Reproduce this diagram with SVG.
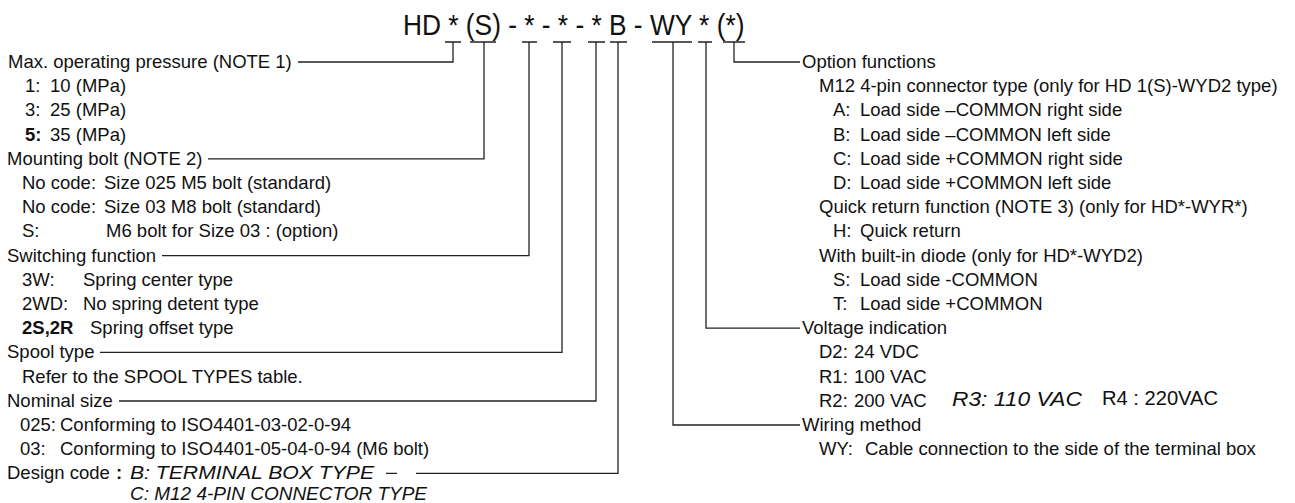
<svg xmlns="http://www.w3.org/2000/svg" width="1295" height="503" viewBox="0 0 1295 503">
<style>
text{font-family:"Liberation Sans",Arial,sans-serif;font-size:18.5px;fill:#111}
.hw{font-style:italic;font-size:19px}
.b{font-weight:bold}
.ln{fill:none;stroke:#222;stroke-width:1.3}
</style>
<rect width="1295" height="503" fill="#fff"/>
<g id="title">
<text transform="translate(403,35) scale(0.877,1)" style="font-size:30px">HD * (S) - * - * - * B - WY * (*)</text>
</g>
<g id="connectors" class="ln">
<path d="M445 42H461M470 42H496M522 42H537M553 42H571M588 42H605M610 42H627M652 42H692M698 42H712M723 42H745"/>
<path d="M298 62H453V42"/>
<path d="M208 158.8H484V42"/>
<path d="M162 255.6H529V42"/>
<path d="M100 352.4H562V42"/>
<path d="M119 401H596V42"/>
<path d="M386 473.4H397M416 473.4H618V42"/>
<path d="M800 425H673V42"/>
<path d="M800 328.2H706V42"/>
<path d="M800 62H734V42"/>
</g>
<g id="pressure">
<text x="8" y="68">Max. operating pressure (NOTE 1)</text>
<text x="25" y="92.2">1:</text><text x="50" y="92.2">10 (MPa)</text>
<text x="25" y="116.4">3:</text><text x="50" y="116.4">25 (MPa)</text>
<text x="25" y="140.6" class="b">5:</text><text x="50" y="140.6">35 (MPa)</text>
</g>
<g id="mounting">
<text x="7" y="164.8">Mounting bolt (NOTE 2)</text>
<text x="22" y="189">No code:</text><text x="104" y="189">Size 025 M5 bolt (standard)</text>
<text x="22" y="213.2">No code:</text><text x="104" y="213.2">Size 03 M8 bolt (standard)</text>
<text x="22" y="237.4">S:</text><text x="106" y="237.4">M6 bolt for Size 03 : (option)</text>
</g>
<g id="switching">
<text x="7" y="261.6">Switching function</text>
<text x="22" y="285.8">3W:</text><text x="83" y="285.8">Spring center type</text>
<text x="22" y="310">2WD:</text><text x="83" y="310">No spring detent type</text>
<text x="22" y="334.2" class="b">2S,2R</text><text x="90" y="334.2">Spring offset type</text>
</g>
<g id="spool">
<text x="7" y="358.4">Spool type</text>
<text x="22" y="382.6">Refer to the SPOOL TYPES table.</text>
</g>
<g id="nominal">
<text x="7" y="406.8">Nominal size</text>
<text x="20" y="431">025:</text><text x="60" y="431">Conforming to ISO4401-03-02-0-94</text>
<text x="20" y="455.2">03:</text><text x="60" y="455.2">Conforming to ISO4401-05-04-0-94 (M6 bolt)</text>
</g>
<g id="design">
<text x="7" y="479.4">Design code</text><text x="116" y="479.4" class="b">:</text>
<text x="130" y="479.4" class="hw" textLength="244" lengthAdjust="spacingAndGlyphs">B: TERMINAL BOX TYPE</text>
<text x="130" y="499.5" class="hw" textLength="297" lengthAdjust="spacingAndGlyphs">C: M12 4-PIN CONNECTOR TYPE</text>
</g>
<g id="option">
<text x="802" y="68">Option functions</text>
<text x="819" y="92.2">M12 4-pin connector type (only for HD 1(S)-WYD2 type)</text>
<text x="833" y="116.4">A:</text><text x="860" y="116.4">Load side –COMMON right side</text>
<text x="833" y="140.6">B:</text><text x="860" y="140.6">Load side –COMMON left side</text>
<text x="833" y="164.8">C:</text><text x="860" y="164.8">Load side +COMMON right side</text>
<text x="833" y="189">D:</text><text x="860" y="189">Load side +COMMON left side</text>
<text x="819" y="213.2">Quick return function (NOTE 3) (only for HD*-WYR*)</text>
<text x="833" y="237.4">H:</text><text x="860" y="237.4">Quick return</text>
<text x="819" y="261.6">With built-in diode (only for HD*-WYD2)</text>
<text x="833" y="285.8">S:</text><text x="860" y="285.8">Load side -COMMON</text>
<text x="833" y="310">T:</text><text x="860" y="310">Load side +COMMON</text>
</g>
<g id="voltage">
<text x="802" y="334.2">Voltage indication</text>
<text x="819" y="358.4">D2:</text><text x="854" y="358.4">24 VDC</text>
<text x="819" y="382.6">R1:</text><text x="854" y="382.6">100 VAC</text>
<text x="819" y="406.8">R2:</text><text x="854" y="406.8">200 VAC</text>
<text x="952" y="405.5" class="hw" style="font-size:21px" textLength="130" lengthAdjust="spacingAndGlyphs">R3: 110 VAC</text>
<text x="1102" y="405" style="font-size:20px" textLength="116" lengthAdjust="spacingAndGlyphs">R4 : 220VAC</text>
</g>
<g id="wiring">
<text x="802" y="431">Wiring method</text>
<text x="819" y="455.2">WY:</text><text x="865" y="455.2">Cable connection to the side of the terminal box</text>
</g>
</svg>
